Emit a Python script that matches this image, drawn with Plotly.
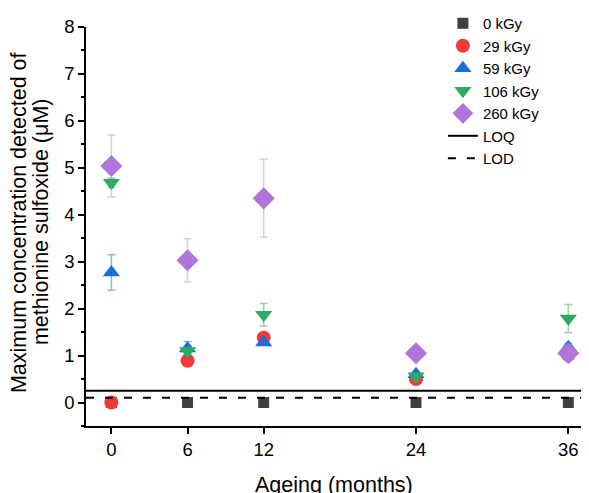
import plotly.graph_objects as go

months = [0, 6, 12, 24, 36]
series_names = ["0 kGy", "29 kGy", "59 kGy", "106 kGy", "260 kGy"]
v_0 = [0, 0, 0, 0, 0]
v_29 = [0, 0.89, 1.38, 0.50, 1.01]
v_59 = [2.77, 1.15, 1.28, 0.60, 1.18]
e_59 = [0.38, 0.15, 0.05, 0.05, 0.08]
v_106 = [4.68, 1.10, 1.87, 0.56, 1.79]
e_106 = [0.10, 0.08, 0.24, 0.05, 0.30]
v_260 = [5.04, 3.03, 4.35, 1.05, 1.05]
e_260 = [0.66, 0.46, 0.83, 0.05, 0.08]
LOQ = 0.25
LOD = 0.1
x_range = [-2, 37]
y_title_lines = ["Maximum concentration detected of", "methionine sulfoxide (μM)"]
x_title = "Ageing (months)"

FONT = "Liberation Sans, Arial, sans-serif"

fig = go.Figure()

fig.add_trace(go.Scatter(x=months, y=v_0, mode="markers", name=series_names[0],
                         marker=dict(symbol="square", size=11, color="#404040")))
fig.add_trace(go.Scatter(x=months, y=v_29, mode="markers", name=series_names[1],
                         marker=dict(symbol="circle", size=14, color="#f03a3a")))
fig.add_trace(go.Scatter(x=months, y=v_59, mode="markers", name=series_names[2],
                         marker=dict(symbol="triangle-up", size=15, color="#1a6ddc"),
                         error_y=dict(type="data", array=e_59, color="rgba(26,109,220,0.5)",
                                      thickness=1.5, width=4)))
fig.add_trace(go.Scatter(x=months, y=v_106, mode="markers", name=series_names[3],
                         marker=dict(symbol="triangle-down", size=15, color="#2eaa62"),
                         error_y=dict(type="data", array=e_106, color="rgba(46,170,98,0.5)",
                                      thickness=1.5, width=4)))
fig.add_trace(go.Scatter(x=months, y=v_260, mode="markers", name=series_names[4],
                         marker=dict(symbol="diamond", size=17, color="#b173dc"),
                         error_y=dict(type="data", array=e_260, color="rgba(177,115,220,0.4)",
                                      thickness=1.5, width=4)))
fig.add_trace(go.Scatter(x=x_range, y=[LOQ, LOQ], mode="lines", name="LOQ",
                         line=dict(color="black", width=2)))
fig.add_trace(go.Scatter(x=x_range, y=[LOD, LOD], mode="lines", name="LOD",
                         line=dict(color="black", width=2, dash="8px,11px")))

annotations = [
    dict(text=y_title_lines[0], xref="paper", yref="paper", x=-0.1354, y=0.511,
         xanchor="center", yanchor="middle", textangle=-90, showarrow=False,
         font=dict(size=21.5, family=FONT, color="black")),
    dict(text=y_title_lines[1], xref="paper", yref="paper", x=-0.0909, y=0.511,
         xanchor="center", yanchor="middle", textangle=-90, showarrow=False,
         font=dict(size=21.5, family=FONT, color="black")),
    dict(text=x_title, xref="paper", yref="paper", x=0.5, y=-0.147,
         xanchor="center", yanchor="middle", showarrow=False,
         font=dict(size=21.5, family=FONT, color="black")),
]

# page body has an 8px margin, so the figure is shifted by (8, 8) on screen
fig.update_layout(
    width=589, height=493,
    margin=dict(l=78, r=16, t=19, b=75, autoexpand=False),
    paper_bgcolor="white", plot_bgcolor="white",
    font=dict(family=FONT, color="black"),
    showlegend=True,
    legend=dict(x=0.721, y=1.05, xanchor="left", yanchor="top",
                bgcolor="rgba(0,0,0,0)", font=dict(size=15, family=FONT),
                tracegroupgap=0, itemwidth=30),
    annotations=annotations,
    xaxis=dict(range=x_range, tickvals=months, ticktext=[str(m) for m in months],
               automargin=False,
               showgrid=False, zeroline=False, showline=True, linecolor="black", linewidth=1.5,
               ticks="outside", ticklen=6, tickwidth=1.5, tickcolor="black",
               tickfont=dict(size=18.5)),
    yaxis=dict(range=[-0.5, 8], tickvals=[0, 1, 2, 3, 4, 5, 6, 7, 8],
               automargin=False,
               showgrid=False, zeroline=False, showline=True, linecolor="black", linewidth=1.5,
               ticks="outside", ticklen=6, tickwidth=1.5, tickcolor="black",
               tickfont=dict(size=18.5),
               minor=dict(tickvals=[-0.5, 0.5, 1.5, 2.5, 3.5, 4.5, 5.5, 6.5, 7.5],
                          ticks="outside", ticklen=3, tickwidth=1.5, tickcolor="black")),
)

fig.write_html("out.html")
